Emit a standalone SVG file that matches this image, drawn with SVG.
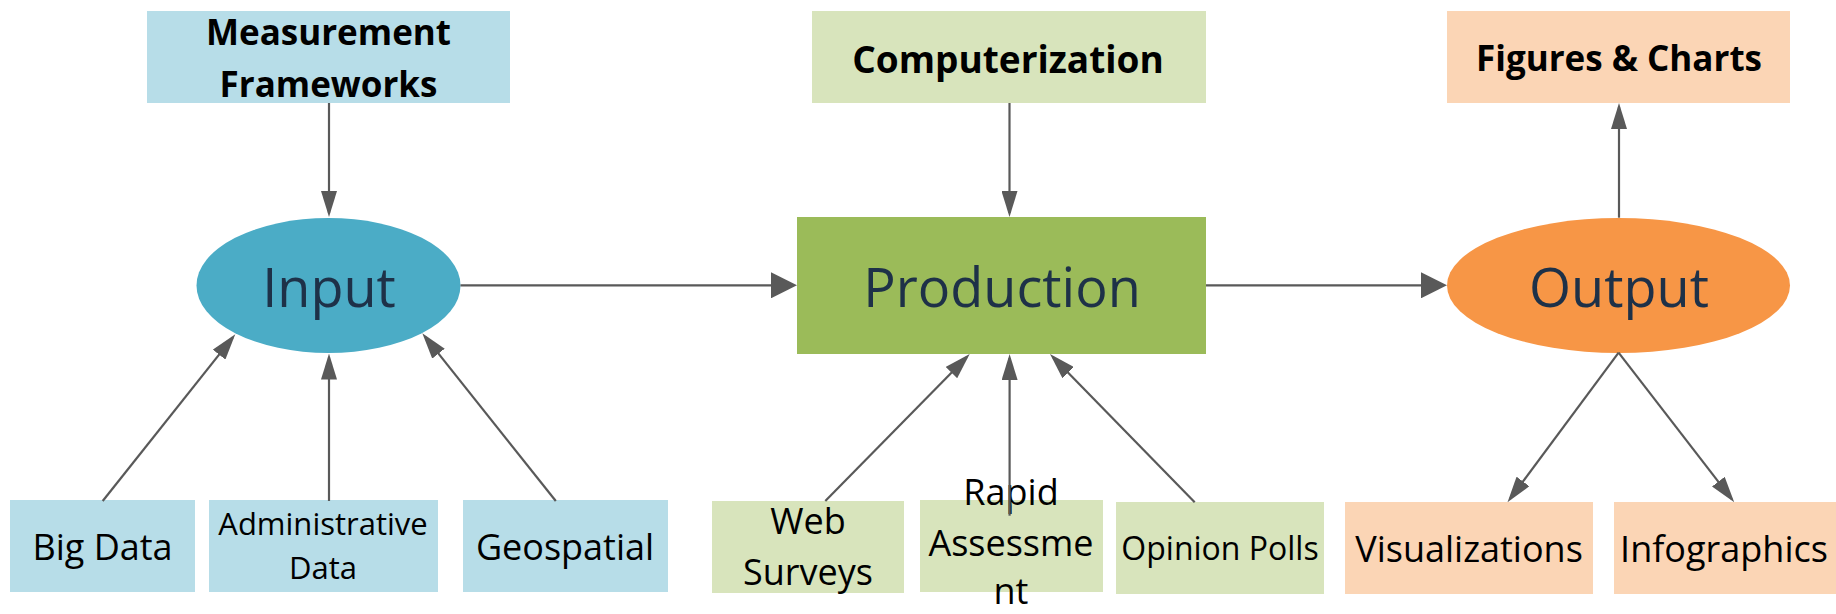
<svg xmlns="http://www.w3.org/2000/svg" width="1836" height="614" viewBox="0 0 1836 614">
<defs>
<style>
.lbl{font-family:"Open Sans","Liberation Sans",sans-serif;fill:#000;text-anchor:middle}
.b{font-weight:bold;font-size:35px}
.r{font-size:36px}
.main{font-family:"Open Sans","Liberation Sans",sans-serif;font-size:54px;fill:#1E3148;text-anchor:middle}
.blue{fill:#B7DDE8}
.green{fill:#D8E4BC}
.peach{fill:#FBD5B5}
.conn{stroke:#595959;stroke-width:2.2;fill:none}
.n{marker-end:url(#an)}
.w{marker-end:url(#aw)}
</style>
<marker id="an" markerUnits="userSpaceOnUse" markerWidth="26" markerHeight="16" refX="22" refY="8" orient="auto">
<path d="M0,0 L26,8 L0,16 z" fill="#595959"/>
</marker>
<marker id="aw" markerUnits="userSpaceOnUse" markerWidth="26" markerHeight="26" refX="22" refY="13" orient="auto">
<path d="M0,0 L26,13 L0,26 z" fill="#595959"/>
</marker>
</defs>
<rect width="1836" height="614" fill="#fff"/>
<g id="measurement">
<rect class="blue" x="147" y="11" width="363" height="92"/>
<text class="lbl b" x="328.5" y="45">Measurement</text>
<text class="lbl b" x="328.5" y="97">Frameworks</text>
</g>
<g id="computerization">
<rect class="green" x="812" y="11" width="394" height="92"/>
<text class="lbl b" x="1008" y="73" style="font-size:37px">Computerization</text>
</g>
<g id="figures">
<rect class="peach" x="1447" y="11" width="343" height="92"/>
<text class="lbl b" x="1619" y="71">Figures &amp; Charts</text>
</g>
<g id="input">
<ellipse cx="328.5" cy="285.5" rx="132" ry="67.5" fill="#4BACC6"/>
<text class="main" x="329" y="306.7">Input</text>
</g>
<g id="production">
<rect x="797" y="217" width="409" height="137" fill="#9BBB59"/>
<text class="main" x="1002" y="306.7">Production</text>
</g>
<g id="output">
<ellipse cx="1618.5" cy="285.5" rx="171.5" ry="67.5" fill="#F79646"/>
<text class="main" x="1619" y="306.7">Output</text>
</g>
<g id="bigdata">
<rect class="blue" x="10" y="500" width="185" height="92"/>
<text class="lbl r" x="102.5" y="560">Big Data</text>
</g>
<g id="admin">
<rect class="blue" x="209" y="500" width="229" height="92"/>
<text class="lbl" x="323" y="535" style="font-size:31px">Administrative</text>
<text class="lbl" x="323" y="579" style="font-size:31px">Data</text>
</g>
<g id="geospatial">
<rect class="blue" x="463" y="500" width="205" height="92"/>
<text class="lbl r" x="565" y="560">Geospatial</text>
</g>
<g id="web">
<rect class="green" x="712" y="501" width="192" height="92"/>
<text class="lbl r" x="808" y="534">Web</text>
<text class="lbl r" x="808" y="585">Surveys</text>
</g>
<g id="rapid">
<rect class="green" x="920" y="500" width="183" height="92"/>
<text class="lbl r" x="1011" y="505">Rapid</text>
<text class="lbl r" x="1011" y="556">Assessme</text>
<text class="lbl r" x="1011" y="604">nt</text>
</g>
<g id="opinion">
<rect class="green" x="1116" y="502" width="208" height="92"/>
<text class="lbl" x="1220" y="560" style="font-size:32px">Opinion Polls</text>
</g>
<g id="visualizations">
<rect class="peach" x="1345" y="502" width="248" height="92"/>
<text class="lbl r" x="1469" y="562">Visualizations</text>
</g>
<g id="infographics">
<rect class="peach" x="1614" y="502" width="222" height="92"/>
<text class="lbl r" x="1724" y="562">Infographics</text>
</g>
<g id="connectors">
<line class="conn n" x1="329" y1="103" x2="329" y2="213"/>
<line class="conn n" x1="102.7" y1="501" x2="232.8" y2="337.4"/>
<line class="conn n" x1="329" y1="501" x2="329" y2="357.5"/>
<line class="conn n" x1="555.8" y1="501" x2="424.8" y2="336.4"/>
<line class="conn w" x1="460.5" y1="285.3" x2="793" y2="285.3"/>
<line class="conn n" x1="1009.5" y1="103" x2="1009.5" y2="213"/>
<line class="conn n" x1="825.3" y1="501" x2="966.9" y2="356.9"/>
<line class="conn n" x1="1009.6" y1="515.7" x2="1009.6" y2="358"/>
<line class="conn n" x1="1194.7" y1="502.3" x2="1052.8" y2="356.9"/>
<line class="conn w" x1="1206" y1="285.3" x2="1443" y2="285.3"/>
<line class="conn n" x1="1619" y1="217.7" x2="1619" y2="107"/>
<line class="conn n" x1="1618.6" y1="352.7" x2="1509.9" y2="499.1"/>
<line class="conn n" x1="1618.6" y1="352.7" x2="1731.8" y2="499.1"/>
</g>
</svg>
